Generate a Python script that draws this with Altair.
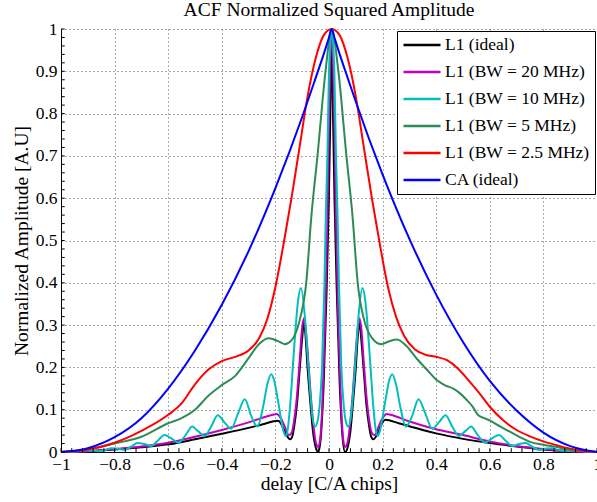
import altair as alt
import pandas as pd

SERIES = ["L1 (ideal)", "L1 (BW = 20 MHz)", "L1 (BW = 10 MHz)",
          "L1 (BW = 5 MHz)", "L1 (BW = 2.5 MHz)", "CA (ideal)"]
COLORS = ["#000000", "#bf00bf", "#00bfbf", "#2e8b57", "#ff0000", "#0000ff"]

BLACK_X = [-1.0, -0.9, -0.8, -0.7, -0.6, -0.5, -0.4, -0.3, -0.25, -0.19, -0.145, -0.138, -0.13, -0.12,
           -0.11, -0.1, -0.093, -0.087, -0.08, -0.07, -0.06, -0.05, -0.04, -0.03, -0.02, -0.01, -0.0005,
           0.005, 0.01, 0.015, 0.0205, 0.03, 0.04, 0.05, 0.06, 0.07, 0.08, 0.09, 0.1, 0.107, 0.113, 0.12,
           0.13, 0.14, 0.15, 0.158, 0.165, 0.21, 0.26, 0.3, 0.35, 0.4, 0.5, 0.6, 0.7, 0.8, 0.9, 1.0]
BLACK_Y = [0.0, 0.002, 0.006, 0.011, 0.018, 0.03, 0.043, 0.057, 0.065, 0.074, 0.03, 0.035, 0.06, 0.11,
           0.19, 0.27, 0.31, 0.27, 0.2, 0.12, 0.05, 0.012, 0.0, 0.04, 0.16, 0.36, 0.6,
           0.8, 1.0, 0.8, 0.6, 0.36, 0.16, 0.04, 0.0, 0.012, 0.05, 0.12, 0.2, 0.27, 0.31, 0.27,
           0.19, 0.11, 0.06, 0.035, 0.03, 0.076, 0.068, 0.061, 0.052, 0.044, 0.031, 0.021, 0.013, 0.006, 0.002, 0.0]

MAG_X = [-1.0, -0.9, -0.8, -0.7, -0.6, -0.5, -0.4, -0.3, -0.21, -0.195, -0.18, -0.165, -0.15, -0.14,
         -0.13, -0.12, -0.11, -0.1, -0.093, -0.087, -0.08, -0.07, -0.06, -0.05, -0.04, -0.033, -0.025,
         -0.015, -0.006, 0.0, 0.005, 0.01, 0.015, 0.02, 0.026, 0.035, 0.045, 0.053, 0.06, 0.07, 0.08,
         0.09, 0.1, 0.107, 0.113, 0.12, 0.13, 0.14, 0.15, 0.16, 0.17, 0.185, 0.2, 0.215, 0.23, 0.3,
         0.4, 0.5, 0.6, 0.7, 0.8, 0.9, 1.0]
MAG_Y = [0.0, 0.002, 0.007, 0.013, 0.022, 0.036, 0.052, 0.07, 0.088, 0.09, 0.08, 0.06, 0.04, 0.045,
         0.075, 0.13, 0.21, 0.295, 0.316, 0.29, 0.24, 0.15, 0.075, 0.025, 0.012, 0.03, 0.11,
         0.3, 0.556, 0.78, 0.93, 1.0, 0.93, 0.78, 0.556, 0.3, 0.11, 0.03, 0.012, 0.025, 0.075,
         0.15, 0.24, 0.29, 0.316, 0.295, 0.21, 0.13, 0.075, 0.045, 0.04, 0.06, 0.08, 0.09, 0.088, 0.072,
         0.054, 0.04, 0.025, 0.014, 0.007, 0.002, 0.0]

CYAN_X = [-1.0, -0.95, -0.91, -0.89, -0.86, -0.835, -0.812, -0.79, -0.762, -0.74, -0.713, -0.69,
          -0.664, -0.64, -0.614, -0.59, -0.562, -0.535, -0.51, -0.49, -0.464, -0.44, -0.415, -0.39,
          -0.365, -0.34, -0.314, -0.29, -0.267, -0.245, -0.23, -0.216, -0.205, -0.19, -0.17, -0.162,
          -0.155, -0.145, -0.135, -0.125, -0.115, -0.105, -0.09, -0.08, -0.07, -0.062, -0.052, -0.042,
          -0.035, -0.026, -0.017, -0.012, -0.006, 0.0, 0.005,
          0.01,
          0.015, 0.02, 0.026, 0.032, 0.037, 0.046, 0.055, 0.062, 0.072, 0.082, 0.09, 0.1, 0.11, 0.125,
          0.135, 0.145, 0.155, 0.165, 0.175, 0.182, 0.19, 0.21, 0.225, 0.236, 0.25, 0.265, 0.287, 0.31,
          0.334, 0.36, 0.385, 0.41, 0.435, 0.46, 0.484, 0.51, 0.53, 0.555, 0.582, 0.61, 0.634, 0.66,
          0.684, 0.71, 0.733, 0.76, 0.782, 0.81, 0.832, 0.855, 0.88, 0.91, 0.93, 0.97, 1.0]
CYAN_Y = [0.0, 0.001, 0.004, 0.003, 0.002, 0.005, 0.009, 0.008, 0.005, 0.012, 0.021, 0.019,
          0.014, 0.026, 0.04, 0.033, 0.022, 0.04, 0.06, 0.05, 0.038, 0.06, 0.087, 0.07,
          0.055, 0.09, 0.125, 0.085, 0.06, 0.11, 0.16, 0.184, 0.17, 0.12, 0.05, 0.038,
          0.05, 0.11, 0.2, 0.29, 0.36, 0.388, 0.32, 0.23, 0.14, 0.085, 0.06, 0.075,
          0.11, 0.2, 0.4, 0.556, 0.7, 0.9, 0.97,
          1.0,
          0.97, 0.9, 0.7, 0.556, 0.4, 0.2, 0.11, 0.075, 0.06, 0.085, 0.14, 0.23, 0.32, 0.388,
          0.36, 0.29, 0.2, 0.11, 0.05, 0.038, 0.05, 0.12, 0.17, 0.184, 0.16, 0.11, 0.06, 0.085,
          0.125, 0.09, 0.055, 0.07, 0.087, 0.06, 0.038, 0.05, 0.06, 0.04, 0.022, 0.033, 0.04, 0.026,
          0.014, 0.019, 0.021, 0.012, 0.005, 0.008, 0.009, 0.005, 0.002, 0.003, 0.004, 0.001, 0.0]

GREEN_X = [-1.0, -0.9, -0.8, -0.7, -0.6, -0.55, -0.5, -0.45, -0.4, -0.35, -0.3, -0.26, -0.225, -0.19,
           -0.165, -0.14, -0.11, -0.085, -0.066, -0.043, -0.013, 0.01, 0.035, 0.065, 0.088, 0.107,
           0.132, 0.16, 0.195, 0.225, 0.253, 0.29, 0.327, 0.365, 0.402, 0.435, 0.464, 0.49, 0.514,
           0.535, 0.557, 0.58, 0.601, 0.64, 0.675, 0.71, 0.75, 0.8, 0.84, 0.9, 0.95, 1.0]
GREEN_Y = [0.0, 0.006, 0.02, 0.036, 0.068, 0.08, 0.1, 0.133, 0.158, 0.18, 0.222, 0.256, 0.269, 0.262,
           0.255, 0.264, 0.31, 0.4, 0.556, 0.7, 0.9, 1.0, 0.9, 0.7, 0.556, 0.4,
           0.31, 0.27, 0.255, 0.262, 0.266, 0.25, 0.221, 0.195, 0.17, 0.157, 0.15, 0.138, 0.123,
           0.108, 0.087, 0.08, 0.074, 0.06, 0.048, 0.036, 0.024, 0.017, 0.013, 0.005, 0.002, 0.0]

RED_X = [-1.0, -0.9, -0.8, -0.7, -0.6, -0.55, -0.5, -0.45, -0.4, -0.35, -0.3, -0.26, -0.23, -0.2,
         -0.17, -0.14, -0.11, -0.08, -0.05, -0.02, 0.01, 0.04, 0.07, 0.1, 0.13, 0.16, 0.19, 0.22,
         0.25, 0.28, 0.32, 0.36, 0.4, 0.44, 0.48, 0.52, 0.56, 0.6, 0.65, 0.7, 0.75, 0.8, 0.85, 0.9,
         0.95, 1.0]
RED_Y = [0.0, 0.006, 0.022, 0.05, 0.088, 0.115, 0.16, 0.195, 0.215, 0.225, 0.24, 0.27, 0.315, 0.39,
         0.49, 0.6, 0.72, 0.84, 0.93, 0.985, 1.0, 0.985, 0.93, 0.84, 0.72, 0.6, 0.49, 0.39,
         0.32, 0.275, 0.243, 0.23, 0.225, 0.217, 0.198, 0.17, 0.14, 0.107, 0.075, 0.052, 0.037, 0.025,
         0.016, 0.008, 0.003, 0.0]

BLUE_X = [-1.0, -0.9, -0.8, -0.7, -0.6, -0.5, -0.4, -0.3, -0.2, -0.1, -0.05, -0.02, 0.0, 0.01, 0.02,
          0.04, 0.07, 0.1, 0.2, 0.3, 0.4, 0.5, 0.6, 0.7, 0.8, 0.9, 1.0]
BLUE_Y = [0.0, 0.009, 0.035, 0.08, 0.15, 0.24, 0.348, 0.475, 0.624, 0.792, 0.884, 0.94, 0.98, 1.0, 0.98,
          0.94, 0.884, 0.828, 0.656, 0.504, 0.372, 0.26, 0.168, 0.098, 0.046, 0.014, 0.0]

XTICKS = [-1, -0.8, -0.6, -0.4, -0.2, 0, 0.2, 0.4, 0.6, 0.8, 1]
YTICKS = [0, 0.1, 0.2, 0.3, 0.4, 0.5, 0.6, 0.7, 0.8, 0.9, 1]
XMINOR = [round(-1 + 0.04 * i, 2) for i in range(51)]
YMINOR = [round(0.02 * i, 2) for i in range(51)]

FONT = "Liberation Serif"

frames = []
for name, xs, ys in zip(SERIES, [BLACK_X, MAG_X, CYAN_X, GREEN_X, RED_X, BLUE_X],
                        [BLACK_Y, MAG_Y, CYAN_Y, GREEN_Y, RED_Y, BLUE_Y]):
    frames.append(pd.DataFrame({"x": xs, "y": ys, "series": name}))
df = pd.concat(frames, ignore_index=True)

xscale = alt.Scale(domain=[-1, 1], nice=False, zero=False)
yscale = alt.Scale(domain=[0, 1], nice=False, zero=False)

x_axis = alt.Axis(values=XTICKS, format=".1~f", grid=True, gridDash=[1, 3], gridColor="#555",
                  gridWidth=1, ticks=False, domainColor="black", domainWidth=1,
                  labelFont=FONT, labelFontSize=17.5, labelColor="black", labelPadding=3,
                  labelFlush=False, labelOverlap=False,
                  titleFont=FONT, titleFontSize=19.5, titleFontWeight="normal",
                  titleColor="black", titlePadding=2)
y_axis = alt.Axis(values=YTICKS, format=".1~f", grid=True, gridDash=[1, 3], gridColor="#555",
                  gridWidth=1, ticks=False, domainColor="black", domainWidth=1,
                  labelFont=FONT, labelFontSize=17.5, labelColor="black", labelPadding=4,
                  labelFlush=False, labelOverlap=False,
                  titleFont=FONT, titleFontSize=19.5, titleFontWeight="normal",
                  titleColor="black", titlePadding=4)

XT = "delay [C/A chips]"
YT = "Normalized Amplitude [A.U]"

lines = alt.Chart(df).mark_line(strokeWidth=2, interpolate="monotone").encode(
    x=alt.X("x:Q", scale=xscale, title=XT, axis=x_axis),
    y=alt.Y("y:Q", scale=yscale, title=YT, axis=y_axis),
    color=alt.Color("series:N", scale=alt.Scale(domain=SERIES, range=COLORS),
                    legend=alt.Legend(title=None, orient="none", legendX=336, legendY=2,
                                      symbolType="stroke", symbolSize=1369, symbolStrokeWidth=2.5,
                                      clipHeight=18, rowPadding=9, padding=5,
                                      labelFont=FONT, labelFontSize=17.5, labelColor="black",
                                      labelOffset=3, labelLimit=400,
                                      fillColor="white", strokeColor="black")),
)

xminor_df = pd.DataFrame({"x": XMINOR})
yminor_df = pd.DataFrame({"y": YMINOR})

xminor = alt.Chart(xminor_df).mark_rule(color="black", strokeWidth=1).encode(
    x=alt.X("x:Q", scale=xscale, title=XT, axis=x_axis),
    y=alt.datum(0),
    y2=alt.datum(0.009),
)
yminor = alt.Chart(yminor_df).mark_rule(color="black", strokeWidth=1).encode(
    y=alt.Y("y:Q", scale=yscale, title=YT, axis=y_axis),
    x=alt.datum(-1),
    x2=alt.datum(-0.986),
)

chart = alt.layer(lines, xminor, yminor).properties(
    width=536, height=423,
    padding={"left": 61, "top": 29, "right": 0, "bottom": 50},
    autosize=alt.AutoSizeParams(type="none"),
    title=alt.TitleParams("ACF Normalized Squared Amplitude", font=FONT, fontSize=19.5,
                          fontWeight="normal", color="black", anchor="middle", offset=-19,
                          frame="group", baseline="bottom"),
).configure_view(stroke=None)

chart.save("out.html", embed_options={"renderer": "svg", "actions": False})
